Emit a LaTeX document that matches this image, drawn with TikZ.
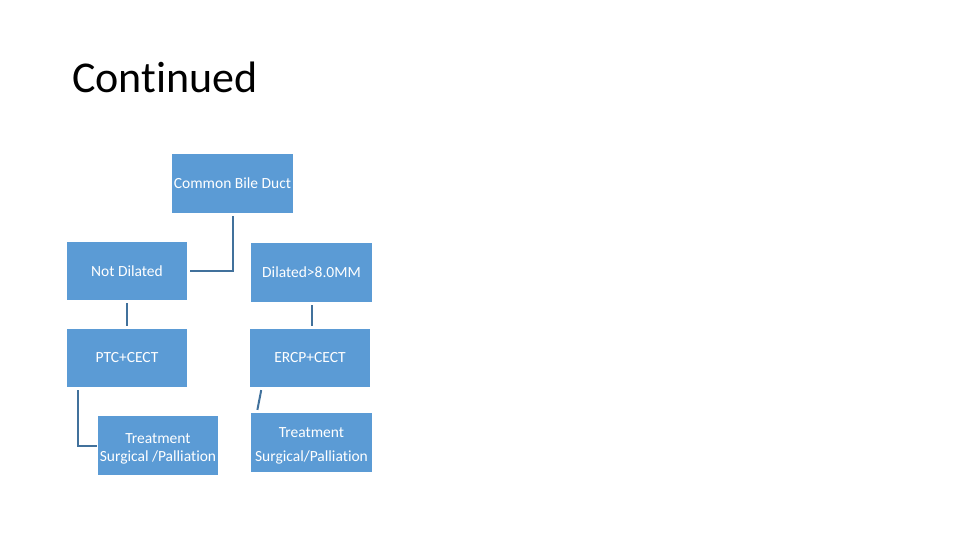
\documentclass[tikz,border=0pt]{standalone}
\usepackage{fontspec}
\setmainfont{Carlito}[Ligatures={NoCommon}]
\definecolor{boxblue}{HTML}{5B9BD5}
\definecolor{linkblue}{HTML}{41719C}
\begin{document}
\begin{tikzpicture}[x=1pt, y=-1pt,
  stepbox/.style={fill=boxblue, text=white, font=\fontsize{15.5}{18}\selectfont,
    minimum width=120pt, minimum height=59pt, inner sep=0pt, align=center},
  link/.style={draw=linkblue, line width=2pt, shorten <=3pt, shorten >=3pt}]
  \useasboundingbox (0,0) rectangle (960,540);
  % titel
  \node[anchor=base west, font=\fontsize{44}{48}\selectfont, inner sep=0pt] (title) at (72,93) {Continued};
  % kotak
  \node[stepbox, minimum width=121pt] (cbd) at (232.5,183.5) {Common Bile Duct};
  \node[stepbox, minimum height=58pt] (notdil) at (127,271) {Not Dilated};
  \node[stepbox, minimum width=121pt] (dil) at (311.5,272.5) {Dilated>8.0MM};
  \node[stepbox, minimum height=58pt] (ptc) at (127,358) {PTC+CECT};
  \node[stepbox, minimum height=58pt] (ercp) at (310,358) {ERCP+CECT};
  \node[stepbox] (treatL) at (158,445.5) {\rule{0pt}{16pt}Treatment\\[0pt]Surgical /Palliation};
  \node[stepbox, minimum width=121pt] (treatR) at (311.5,442.5) {\rule{0pt}{16pt}Treatment\\[6pt]Surgical/Palliation};
  % garis
  \draw[link] (cbd.south) |- (notdil.east);
  \draw[link] (notdil.south) -- (ptc.north);
  \draw[link] (dil.south) -- (dil.south |- ercp.north);
  \draw[link, shorten >=1pt] ([xshift=11pt]ptc.south west) |- (treatL.west);
  \draw[link] ([xshift=12pt]ercp.south west) -- ([xshift=6pt]treatR.north west);
\end{tikzpicture}
\end{document}
